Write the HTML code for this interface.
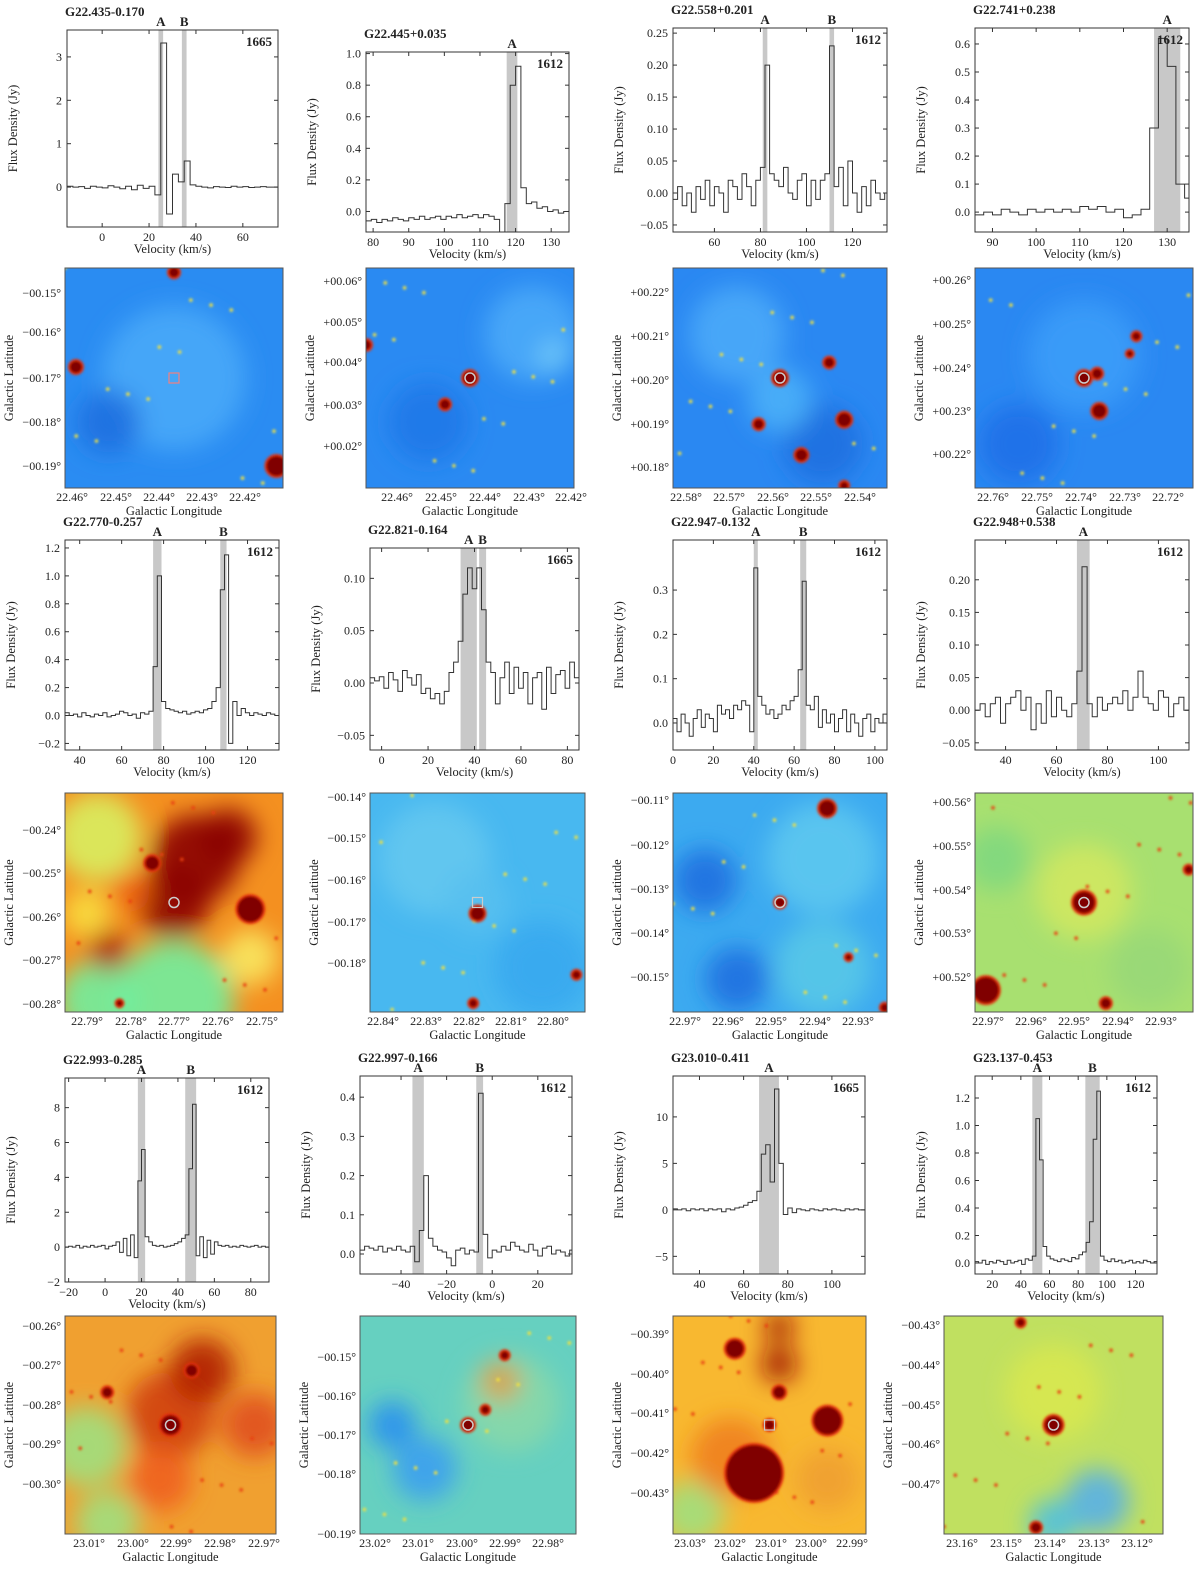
<!DOCTYPE html>
<html><head><meta charset="utf-8">
<style>
html,body{margin:0;padding:0;background:#fff;}
svg text{font-family:"Liberation Serif","DejaVu Serif",serif;fill:#222;}
</style></head>
<body>
<svg id="fig" xmlns="http://www.w3.org/2000/svg" width="1200" height="1569" viewBox="0 0 1200 1569">
<defs>
<filter id="blur6" x="-50%" y="-50%" width="200%" height="200%"><feGaussianBlur stdDeviation="12"/></filter>
<filter id="blur1"><feGaussianBlur stdDeviation="1.2"/></filter>
</defs>
</svg>
<script>
// ---- spectral data (flux density per channel, Jy) ----
const vals1 = [0.02,0,0.01,-0.03,0.02,0,-0.02,0.03,0,-0.04,0.02,-0.06,0.04,-0.03,0.02,-0.18,3.32,-0.62,0.3,0.12,0.6,0.05,0.02,0,-0.02,0.01,0,-0.01,0.02,0,0.01,-0.01,0,0.01,0,0];
const vals2 = [-0.06,-0.05,-0.07,-0.05,-0.06,-0.04,-0.05,-0.06,-0.04,-0.05,-0.03,-0.05,-0.04,-0.03,-0.05,-0.03,-0.04,-0.02,-0.04,-0.03,-0.02,-0.04,-0.02,-0.03,-0.05,-0.15,0.05,0.8,0.92,0.15,0.05,0.06,0.02,0.03,0,0.01,-0.01,0];
const vals3 = [-0.01,0.01,-0.02,0,-0.03,0.01,-0.01,0.02,-0.02,0.01,0,-0.03,0.02,0.01,-0.01,0.03,0.01,-0.02,0.02,0.04,0.2,0.03,0.02,0.01,0.04,0,-0.01,0.02,0.03,-0.02,0.02,-0.01,0.02,0.03,0.23,0.01,0.04,-0.02,0.05,0,-0.03,0.01,-0.02,0.02,0,-0.01,0];
const vals4 = [-0.01,0,-0.01,0.01,0,-0.01,0.01,0,0.01,0,0.01,0,0.02,0.01,0.02,0,0.01,-0.02,-0.01,0.01,0.3,0.62,0.52,0.1,0.05];
const vals5 = [0.02,0,0.01,-0.01,0.02,0,-0.01,0.01,0,0.02,-0.01,0,0.01,0.03,0.02,0,0.01,-0.02,0.02,0.01,0.03,0.35,1.0,0.1,0.05,0.04,0.03,0.02,0.03,0.01,0.02,0.03,0.02,0.04,0.05,0.1,0.2,0.9,1.15,-0.2,0.1,0,0.05,0.02,0,0.02,0.01,0,0.02,0.01,0];
const vals6 = [0.005,0.002,0.006,-0.005,0.01,0.003,-0.008,0.012,0.005,-0.002,0.008,-0.01,-0.005,-0.015,-0.01,-0.02,-0.008,0.01,0.02,0.04,0.085,0.11,0.09,0.11,0.07,0.02,0.01,-0.02,0.005,0.02,-0.01,0.015,-0.005,0.01,-0.02,0.005,0.01,-0.025,0.015,-0.01,0.008,0.012,-0.005,0.02,0.005];
const vals7 = [0.01,-0.02,0.02,0,-0.03,0.01,0.03,-0.01,0.02,0.01,-0.02,0.04,0.02,0.03,0.01,0.04,0.03,0.05,0.04,-0.02,0.35,0.06,0.04,0.02,0.03,0.01,0.02,0.04,0.03,0.05,0.06,0.12,0.32,0.04,0.03,0.06,-0.01,0.03,0,0.02,-0.02,0.01,0.03,-0.02,0.02,0,-0.03,0.01,0.02,-0.02,0.01,0,0.02];
const vals8 = [0,0.01,-0.01,0.01,0.02,-0.02,0.01,0.02,0.03,0,0.02,-0.03,0.01,-0.02,0.03,-0.01,0.02,0,-0.01,0.01,0.06,0.22,0.01,-0.01,0.02,0,0.01,0.02,0.01,0.03,0,0.02,0.06,0.02,0.01,0,0.03,0.02,-0.01,0.01,0.02,0];
const vals9 = [0,0.05,0,0.1,-0.05,0.05,0,0.1,0,0.05,0.1,-0.1,0.05,0.1,0.3,-0.3,0.5,-0.5,0.7,-0.6,3.8,5.6,0.6,0.3,0.1,0.05,0.1,0,0.05,0.1,0.2,0.3,0.5,0.7,4.5,8.2,-0.5,0.6,-0.6,0.4,-0.4,0.3,0.1,0.05,0.1,0,0.05,0,0.1,0.05,0,0.05,0.1,0,0.05,0];
const vals10 = [0.01,0.02,0.015,0.01,0.02,0.005,0.015,0.01,0.02,0.01,0.005,0.02,-0.02,0.06,0.2,0.04,0.02,0.01,0.005,-0.01,-0.03,0.01,0.015,0,0.01,0.005,0.41,0.05,-0.01,0.01,0.005,0.02,0.01,0.03,0.02,0.01,0.005,0.025,0.01,-0.005,0.015,0.02,0,0.01,0.005,-0.005,0.01];
const vals11 = [0.1,0,0.1,-0.1,0.1,0,0.1,-0.1,0.1,0,0.1,-0.2,0.1,0,0.2,0.3,0.5,0.8,1,2,6,7,3,13,5,-0.5,0.2,-0.3,0.1,0,-0.1,0.1,0,-0.1,0.1,0,0.1,0,-0.1,0.1,0,0.1,0,0];
const vals12 = [0.01,0,0.02,-0.01,0.01,0,0.02,0.01,-0.01,0.02,0,0.01,0.02,-0.01,0.03,0.02,0.05,1.05,0.75,0.12,0.05,0.03,0.02,0.01,0.03,0.02,0.01,0.04,0.03,0.06,0.08,0.15,0.3,0.9,1.25,0.05,0.02,0.01,0.03,0.01,0.02,0,0.01,0.02,0,0.01,0,0.02,0.01,0,0.01];

const titles = ["G22.435-0.170","G22.445+0.035","G22.558+0.201","G22.741+0.238","G22.770-0.257","G22.821-0.164","G22.947-0.132","G22.948+0.538","G22.993-0.285","G22.997-0.166","G23.010-0.411","G23.137-0.453"];
const lines = ["1665","1612","1612","1612","1612","1665","1612","1612","1612","1612","1665","1612"];
const startVel = [-15,78,42,86,33,-5,0,28,-22,-58,28,8];
const chanWidth = [2.5,1.5,2,2,2,2,2,2,2,2,2,2.5];
const xTicks = [[0,20,40,60],[80,90,100,110,120,130],[60,80,100,120],[90,100,110,120,130],[40,60,80,100,120],[0,20,40,60,80],[0,20,40,60,80,100],[40,60,80,100],[-20,0,20,40,60,80],[-40,-20,0,20],[40,60,80,100],[20,40,60,80,100,120]];
const yTicks = [[0,1,2,3],[0,0.2,0.4,0.6,0.8,1.0],[-0.05,0,0.05,0.1,0.15,0.2,0.25],[0,0.1,0.2,0.3,0.4,0.5,0.6],[-0.2,0,0.2,0.4,0.6,0.8,1.0,1.2],[-0.05,0,0.05,0.1],[0,0.1,0.2,0.3],[-0.05,0,0.05,0.1,0.15,0.2],[-2,0,2,4,6,8],[0,0.1,0.2,0.3,0.4],[-5,0,5,10],[0,0.2,0.4,0.6,0.8,1.0,1.2]];
const yDecimals = [0,1,2,1,1,2,1,2,0,1,0,1];
const bands = [[[24,26,"A"],[34,36,"B"]],[[117.5,120.5,"A"]],[[81,83,"A"],[110,112,"B"]],[[127,133,"A"]],[[75,79,"A"],[107,110,"B"]],[[34,41,"A"],[42,45,"B"]],[[40,42,"A"],[63,66,"B"]],[[68,73,"A"]],[[18,22,"A"],[44,50,"B"]],[[-35,-30,"A"],[-7,-4,"B"]],[[67,76,"A"]],[[48,55,"A"],[85,95,"B"]]];
const xRange = [[-15,75],[78,135],[42,135],[86,135],[33,135],[-5,85],[0,106],[28,112],[-22,90],[-58,35],[28,115],[8,135]];
const yRange = [[-0.92,3.62],[-0.13,1.01],[-0.061,0.258],[-0.071,0.657],[-0.247,1.257],[-0.064,0.129],[-0.061,0.413],[-0.061,0.261],[-2,9.7],[-0.051,0.454],[-6.9,14.4],[-0.08,1.36]];
const allVals = [vals1,vals2,vals3,vals4,vals5,vals6,vals7,vals8,vals9,vals10,vals11,vals12];

// layout boxes (pixels)
const specBox = [[67,30,278,227],[366,52,569,232],[673,28,887,232],[975,28,1189,232],
[65,540,279,750],[370,548,579,750],[673,540,887,750],[975,540,1189,750],
[65,1078,269,1282],[360,1076,572,1274],[673,1076,865,1274],[975,1076,1157,1274]];
const imgBox = [[65,268,283,488],[366,268,574,488],[673,268,887,488],[975,268,1193,488],
[65,793,283,1012],[370,793,585,1012],[673,793,887,1012],[975,793,1193,1012],
[65,1316,276,1534],[360,1316,576,1534],[673,1316,866,1534],[944,1316,1163,1534]];

const latLabels = [["−00.15°","−00.16°","−00.17°","−00.18°","−00.19°"],["+00.06°","+00.05°","+00.04°","+00.03°","+00.02°"],["+00.22°","+00.21°","+00.20°","+00.19°","+00.18°"],["+00.26°","+00.25°","+00.24°","+00.23°","+00.22°"],
["−00.24°","−00.25°","−00.26°","−00.27°","−00.28°"],["−00.14°","−00.15°","−00.16°","−00.17°","−00.18°"],["−00.11°","−00.12°","−00.13°","−00.14°","−00.15°"],["+00.56°","+00.55°","+00.54°","+00.53°","+00.52°"],
["−00.26°","−00.27°","−00.28°","−00.29°","−00.30°"],["−00.15°","−00.16°","−00.17°","−00.18°","−00.19°"],["−00.39°","−00.40°","−00.41°","−00.42°","−00.43°"],["−00.43°","−00.44°","−00.45°","−00.46°","−00.47°"]];
const lonLabels = [["22.46°","22.45°","22.44°","22.43°","22.42°"],["22.46°","22.45°","22.44°","22.43°","22.42°"],["22.58°","22.57°","22.56°","22.55°","22.54°"],["22.76°","22.75°","22.74°","22.73°","22.72°"],
["22.79°","22.78°","22.77°","22.76°","22.75°"],["22.84°","22.83°","22.82°","22.81°","22.80°"],["22.97°","22.96°","22.95°","22.94°","22.93°"],["22.97°","22.96°","22.95°","22.94°","22.93°"],
["23.01°","23.00°","22.99°","22.98°","22.97°"],["23.02°","23.01°","23.00°","22.99°","22.98°"],["23.03°","23.02°","23.01°","23.00°","22.99°"],["23.16°","23.15°","23.14°","23.13°","23.12°"]];
const latPix = [[293,332,378,422,466],[281,322,362,405,446],[292,336,380,424,467],[280,324,368,411,454],
[830,873,917,960,1004],[797,838,880,922,963],[800,845,889,933,977],[802,846,890,933,977],
[1326,1365,1405,1444,1484],[1357,1396,1435,1474,1534],[1334,1374,1413,1453,1493],[1325,1365,1405,1444,1484]];
const lonPix = [[72,116,159,202,245],[397,441,485,529,571],[686,729,773,816,860],[993,1037,1081,1125,1168],
[87,131,174,218,262],[383,426,469,511,553],[685,728,771,815,858],[988,1031,1074,1118,1161],
[89,133,176,220,264],[375,418,462,505,548],[690,730,771,811,852],[962,1006,1050,1094,1137]];

const NS="http://www.w3.org/2000/svg";
const svg=document.getElementById('fig');
function el(tag,attrs,parent){const e=document.createElementNS(NS,tag);for(const k in attrs)e.setAttribute(k,attrs[k]);(parent||svg).appendChild(e);return e;}
function txt(s,x,y,size,anchor,parent,extra){const t=el('text',Object.assign({x:x,y:y,'font-size':size,'text-anchor':anchor||'middle'},extra||{}),parent);t.textContent=s;return t;}
function fmt(v,d){let s=v.toFixed(d);if(v<0)s="−"+s.slice(1);return s;}

for(let p=0;p<12;p++){
  const [x0,y0,x1,y1]=specBox[p];
  const g=el('g',{});
  
  
  const xs=v=>x0+(v-xRange[p][0])/(xRange[p][1]-xRange[p][0])*(x1-x0);
  const ys=v=>y1-(v-yRange[p][0])/(yRange[p][1]-yRange[p][0])*(y1-y0);
  const cl=el('clipPath',{id:'c'+p},g);el('rect',{x:x0,y:y0,width:x1-x0,height:y1-y0},cl);
  bands[p].forEach(b=>{
    const r=el('rect',{x:xs(b[0]),y:y0,width:xs(b[1])-xs(b[0]),height:y1-y0,fill:'#c8c8c8','clip-path':'url(#c'+p+')'},g);
    
    
    const t=txt(b[2],(xs(b[0])+xs(b[1]))/2,y0-4,13,'middle',g,{'font-weight':'bold'});
    
    
  });
  const vs=allVals[p];let d="";
  for(let i=0;i<vs.length;i++){const a=xs(startVel[p]+i*chanWidth[p]),b=xs(startVel[p]+(i+1)*chanWidth[p]),yy=ys(vs[i]);d+=(i?"L":"M")+a.toFixed(1)+","+yy.toFixed(1)+"L"+b.toFixed(1)+","+yy.toFixed(1);}
  const path=el('path',{d:d,fill:'none',stroke:'#333','stroke-width':1,'clip-path':'url(#c'+p+')'},g);
  
  
  el('rect',{x:x0,y:y0,width:x1-x0,height:y1-y0,fill:'none',stroke:'#333','stroke-width':1},g);
  xTicks[p].forEach(v=>{const X=xs(v);el('line',{x1:X,x2:X,y1:y1,y2:y1-4,stroke:'#333'},g);el('line',{x1:X,x2:X,y1:y0,y2:y0+4,stroke:'#333'},g);txt(v<0?"−"+(-v):String(v),X,y1+14,12,'middle',g);});
  yTicks[p].forEach(v=>{const Y=ys(v);el('line',{x1:x0,x2:x0+4,y1:Y,y2:Y,stroke:'#333'},g);el('line',{x1:x1,x2:x1-4,y1:Y,y2:Y,stroke:'#333'},g);txt(fmt(v,yDecimals[p]),x0-5,Y+4,12,'end',g);});
  const xl=txt("Velocity (km/s)",(x0+x1)/2,y1+26,12.5,'middle',g);
  
  
  const yl=txt("Flux Density (Jy)",0,0,12.5,'middle',g,{transform:'translate('+(x0-50)+','+((y0+y1)/2)+') rotate(-90)'});
  
  
  const tt=txt(titles[p],x0-2,y0-14,13,'start',g,{'font-weight':'bold'});
  
  
  const lt=txt(lines[p],x1-6,y0+16,13,'end',g,{'font-weight':'bold'});
  
  
}

// ---- image panels ----
const imgBase=['#2a8cf2','#2a8af2','#2a88f2','#2a88f2','#f49020','#48b8f0','#3caaf0','#a8e070','#f0a030','#66d0c0','#f8b830','#c0e060'];
const imgPatches=[
 [[0.5,0.5,90,'#48a8f8'],[0.2,0.7,40,'#1e70e0']],
 [[0.8,0.3,60,'#4aaaf8'],[0.3,0.7,50,'#1f78e8'],[0.9,0.4,20,'#70c8f8']],
 [[0.3,0.3,60,'#4aaaf8'],[0.7,0.8,50,'#2070e0'],[0.5,0.6,40,'#4ab0f8']],
 [[0.5,0.4,70,'#3a9cf8'],[0.2,0.8,50,'#2070e8']],
 [[0.15,0.2,55,'#d8f060'],[0.6,0.3,55,'#8b0000'],[0.5,0.5,45,'#8b0000'],[0.75,0.2,35,'#8b0000'],[0.5,0.95,75,'#70f0a0'],[0.15,0.95,50,'#70f0a0'],[0.1,0.55,30,'#f8e040'],[0.2,0.72,25,'#a81000'],[0.85,0.75,35,'#f8e860'],[0.3,0.45,25,'#f06010']],
 [[0.3,0.3,70,'#64c8f0'],[0.8,0.8,60,'#38a8f0'],[0.5,0.5,40,'#58c0f0']],
 [[0.15,0.4,40,'#2070e0'],[0.3,0.85,40,'#2070e0'],[0.7,0.3,70,'#5cc8f0'],[0.7,0.8,60,'#58c8e8']],
 [[0.5,0.45,60,'#d0e860'],[0.1,0.3,40,'#80d880'],[0.8,0.8,50,'#98d878']],
 [[0.5,0.45,55,'#d04010'],[0.65,0.25,40,'#b02000'],[0.1,0.6,50,'#a0e080'],[0.2,0.95,40,'#a0e080'],[0.9,0.5,40,'#e05020'],[0.45,0.75,40,'#f06020']],
 [[0.15,0.5,30,'#2a90f0'],[0.3,0.7,40,'#3aa0f0'],[0.7,0.4,60,'#88d8a8'],[0.65,0.3,25,'#e0a040']],
 [[0.55,0.22,22,'#a01000'],[0.55,0.05,18,'#a01000'],[0.1,0.9,40,'#a0e080'],[0.3,0.65,50,'#f08020'],[0.8,0.75,40,'#f0a030']],
 [[0.5,0.35,60,'#d8e850'],[0.7,0.85,40,'#58b0e8'],[0.5,0.95,30,'#50c0e0']]
];
const starRed=[
 [[0.5,0.02,5],[0.97,0.9,10],[0.05,0.45,6]],
 [[0.5,0.5,7],[0.38,0.62,5],[0.0,0.35,5]],
 [[0.5,0.5,7],[0.73,0.43,5],[0.4,0.71,5],[0.8,0.69,7],[0.6,0.85,6],[0.8,0.99,4]],
 [[0.5,0.5,7],[0.56,0.48,5],[0.57,0.65,7],[0.74,0.31,4],[0.71,0.39,3]],
 [[0.85,0.53,13],[0.4,0.32,7],[0.25,0.96,3]],
 [[0.5,0.55,7],[0.48,0.96,4],[0.96,0.83,4]],
 [[0.72,0.07,8],[0.5,0.5,5],[0.99,0.98,4],[0.82,0.75,3]],
 [[0.5,0.5,11],[0.05,0.9,13],[0.6,0.96,5],[0.98,0.35,4]],
 [[0.5,0.5,10],[0.2,0.35,5],[0.6,0.25,6]],
 [[0.5,0.5,6],[0.58,0.43,4],[0.67,0.18,4]],
 [[0.5,0.5,5],[0.32,0.15,9],[0.8,0.48,14],[0.42,0.72,28],[0.55,0.35,6]],
 [[0.5,0.5,9],[0.42,0.97,5],[0.35,0.03,4]]
];
const hasSquare=[true,false,false,false,false,true,false,false,false,false,true,false];

for(let p=0;p<12;p++){
  const [x0,y0,x1,y1]=imgBox[p];const w=x1-x0,h=y1-y0;
  const g=el('g',{});
  
  
  const cl=el('clipPath',{id:'ic'+p},g);el('rect',{x:x0,y:y0,width:w,height:h},cl);
  const inner=el('g',{'clip-path':'url(#ic'+p+')'},g);
  el('rect',{x:x0,y:y0,width:w,height:h,fill:imgBase[p]},inner);
  const pg=el('g',{filter:'url(#blur6)'},inner);
  imgPatches[p].forEach(q=>el('circle',{cx:x0+q[0]*w,cy:y0+q[1]*h,r:q[2]*0.8,fill:q[3],opacity:0.9},pg));
  const sg=el('g',{filter:'url(#blur1)'},inner);
  for(let k=0;k<14;k++){const fx=((k*37+p*13)%97)/97,fy=((k*53+p*29)%89)/89;el('circle',{cx:x0+fx*w,cy:y0+fy*h,r:1.8,fill:p>=4&&p!=5&&p!=6&&p!=9?'#e84010':'#f0e040'},sg);}
  starRed[p].forEach(s=>{el('circle',{cx:x0+s[0]*w,cy:y0+s[1]*h,r:s[2]+2,fill:'#e83010'},sg);el('circle',{cx:x0+s[0]*w,cy:y0+s[1]*h,r:s[2],fill:'#800000'},sg);});
  const cx=x0+w/2,cy=y0+h/2;
  let m;
  if(hasSquare[p]) m=el('rect',{x:cx-5,y:cy-5,width:10,height:10,fill:'none',stroke:p===0?'#f08080':'#ccc','stroke-width':1.2},inner);
  else m=el('circle',{cx:cx,cy:cy,r:5,fill:'none',stroke:'#ccc','stroke-width':1.5},inner);
  
  
  el('rect',{x:x0,y:y0,width:w,height:h,fill:'none',stroke:'#555','stroke-width':1},g);
  latLabels[p].forEach((s,i)=>{txt(s,x0-4,latPix[p][i]+4,12,'end',g);});
  lonLabels[p].forEach((s,i)=>{txt(s,lonPix[p][i],y1+13,12,'middle',g);});
  const a=txt("Galactic Longitude",(x0+x1)/2,y1+27,12.5,'middle',g);
  
  
  const b=txt("Galactic Latitude",0,0,12.5,'middle',g,{transform:'translate('+(x0-52)+','+((y0+y1)/2)+') rotate(-90)'});
  
  
}
</script>
</body></html>
